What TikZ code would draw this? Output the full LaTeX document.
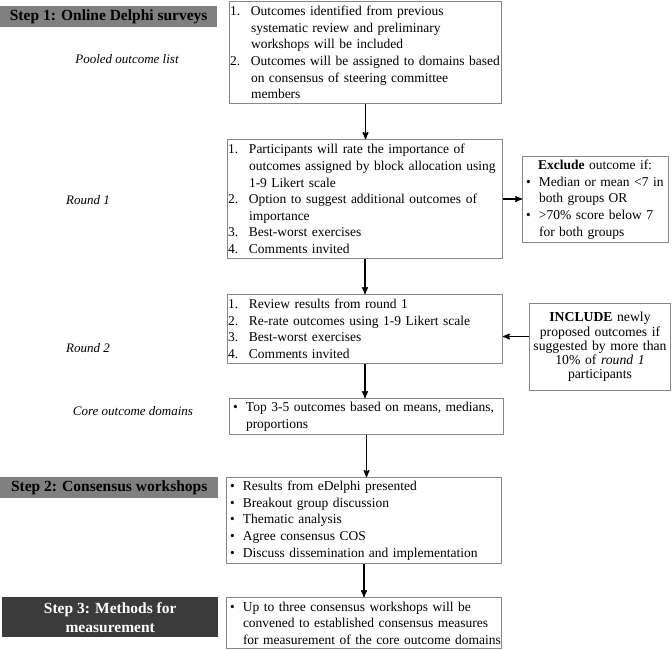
\documentclass[tikz,border=0pt]{standalone}
\usepackage{fontspec}
\setmainfont{Liberation Serif}
\usetikzlibrary{arrows}

\definecolor{StepGray}{RGB}{128,128,128}
\definecolor{StepDark}{RGB}{59,59,59}
\definecolor{BoxLine}{RGB}{135,135,135}

\newlength{\NumIndent}\setlength{\NumIndent}{21pt}
\newlength{\DotIndent}\setlength{\DotIndent}{16pt}
\newcommand{\NumItem}[2]{\noindent\hangindent=\NumIndent\hangafter=1\makebox[\NumIndent][l]{#1}#2\par}
\newcommand{\DotItem}[1]{\noindent\hangindent=\DotIndent\hangafter=1\makebox[\DotIndent][l]{\hspace{3pt}\textbullet}#1\par}

\begin{document}
\begin{tikzpicture}[x=1pt,y=-1pt]
    \useasboundingbox (0,0) rectangle (672,649);

    \tikzset{StepStyle/.style={anchor=north west, inner sep=0pt, align=center,
        font=\fontsize{15.5}{19}\selectfont\bfseries}}
    \node[StepStyle, fill=StepGray, minimum width=217pt, minimum height=21pt] (S1) at (0,6) {Step 1: Online Delphi surveys};
    \node[StepStyle, fill=StepGray, minimum width=218pt, minimum height=21pt] (S2) at (0,477) {Step 2: Consensus workshops};
    \node[StepStyle, fill=StepDark, text=white, minimum width=216pt, minimum height=40pt] (S3) at (2,597) {Step 3: Methods for\\measurement};

    \tikzset{LabelStyle/.style={font=\fontsize{13}{15}\selectfont\itshape}}
    \node[LabelStyle] (PoolLabel) at (127,59) {Pooled outcome list};
    \node[LabelStyle] (R1Label) at (88,200) {Round 1};
    \node[LabelStyle] (R2Label) at (88,348) {Round 2};
    \node[LabelStyle] (CoreLabel) at (133,411) {Core outcome domains};

    \tikzset{BoxStyle/.style={draw=BoxLine, line width=1pt, fill=white, anchor=north west,
        inner xsep=0.5pt, inner ysep=1pt, align=left, font=\fontsize{13.5}{16.6}\selectfont}}
    \node[BoxStyle, text width=271pt, minimum height=102pt] (Pool) at (229,1) {%
        \NumItem{1.}{Outcomes identified from previous\newline systematic review and preliminary\newline workshops will be included}
        \NumItem{2.}{Outcomes will be assigned to domains based\newline on consensus of steering committee\newline members}};
    \node[BoxStyle, text width=274pt, minimum height=119pt] (R1) at (227,139) {%
        \NumItem{1.}{Participants will rate the importance of\newline outcomes assigned by block allocation using\newline 1-9 Likert scale}
        \NumItem{2.}{Option to suggest additional outcomes of\newline importance}
        \NumItem{3.}{Best-worst exercises}
        \NumItem{4.}{Comments invited}};
    \node[BoxStyle, text width=145pt, minimum height=86pt] (EX) at (522,156) {%
        \noindent\hspace*{15pt}\textbf{Exclude} outcome if:\par
        \DotItem{Median or mean <7 in\newline both groups OR}
        \DotItem{>70\% score below 7\newline for both groups}};
    \node[BoxStyle, text width=274pt, minimum height=69pt] (R2) at (227,294) {%
        \NumItem{1.}{Review results from round 1}
        \NumItem{2.}{Re-rate outcomes using 1-9 Likert scale}
        \NumItem{3.}{Best-worst exercises}
        \NumItem{4.}{Comments invited}};
    \node[BoxStyle, align=center, text width=140pt, minimum height=87pt,
        font=\fontsize{13.7}{14.2}\selectfont] (IN) at (529,303) {%
        \textbf{INCLUDE} newly\\proposed outcomes if\\suggested by more than\\10\% of \textit{round 1}\\participants};
    \node[BoxStyle, text width=273pt, minimum height=36pt] (Core) at (229,398) {%
        \DotItem{Top 3-5 outcomes based on means, medians,\newline proportions}};
    \node[BoxStyle, text width=274pt, minimum height=86pt] (WS) at (226,477) {%
        \DotItem{Results from eDelphi presented}
        \DotItem{Breakout group discussion}
        \DotItem{Thematic analysis}
        \DotItem{Agree consensus COS}
        \DotItem{Discuss dissemination and implementation}};
    \node[BoxStyle, text width=274pt, minimum height=51pt] (Meas) at (226,597) {%
        \DotItem{Up to three consensus workshops will be\newline convened to established consensus measures\newline for measurement of the core outcome domains}};

    \tikzset{EdgeStyle/.style={->, >=stealth', line width=1.4pt}}
    \draw[EdgeStyle] (Pool.south) -- (Pool.south |- R1.north);
    \draw[EdgeStyle] (R1.south) -- (R1.south |- R2.north);
    \draw[EdgeStyle] (R2.south) -- (R2.south |- Core.north);
    \draw[EdgeStyle] (Core.south) -- (Core.south |- WS.north);
    \draw[EdgeStyle] (WS.south) -- (WS.south |- Meas.north);
    \draw[EdgeStyle] (R1.east) -- (R1.east -| EX.west);
    \draw[EdgeStyle] ([yshift=10.5pt]IN.west) -- ([yshift=10.5pt]IN.west -| R2.east);
\end{tikzpicture}
\end{document}
